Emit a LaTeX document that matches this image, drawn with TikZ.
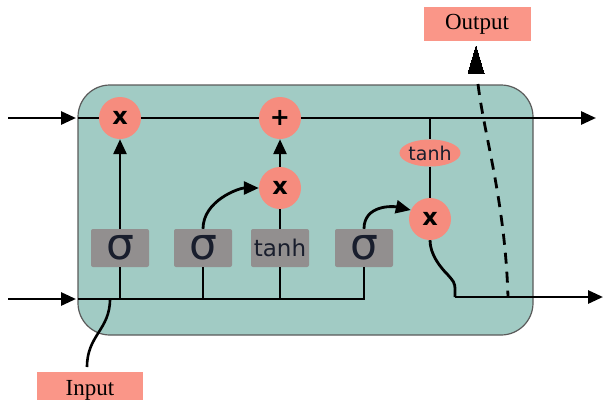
\documentclass[tikz,border=0pt]{standalone}
\usepackage{fontspec}
\setmainfont{Liberation Serif}
\newfontfamily\djv{DejaVu Sans}
\usetikzlibrary{arrows.meta,shapes.geometric}
\definecolor{cellbg}{RGB}{161,203,196}
\definecolor{cellbd}{RGB}{90,90,90}
\definecolor{opc}{RGB}{246,140,126}
\definecolor{gatebox}{RGB}{146,143,143}
\definecolor{lblbox}{RGB}{250,150,136}
\definecolor{txtdark}{RGB}{25,30,45}
\tikzset{
  flow/.style={line width=2.8pt, draw=black},
  tip/.style={-{Triangle[length=15pt,width=13pt]}},
  opnode/.style={circle, fill=opc, minimum size=42pt, inner sep=0pt, font=\djv\bfseries\fontsize{24}{24}\selectfont},
  gate/.style={rectangle, rounded corners=2pt, fill=gatebox, minimum width=58pt, minimum height=38pt, inner sep=0pt, text=txtdark},
  lbl/.style={rectangle, fill=lblbox, inner sep=0pt, font=\fontsize{23}{23}\selectfont}
}
\begin{document}
\begin{tikzpicture}[x=1pt,y=-1pt]
\useasboundingbox (0,0) rectangle (604,399);
% cell body
\draw[fill=cellbg, draw=cellbd, line width=1.2pt, rounded corners=32pt] (78,85) rectangle (533,335);
% nodes
\node[opnode] (m1) at (120,118) {x};
\node[opnode] (add) at (280,118) {+};
\node[opnode] (m2) at (280,188) {x};
\node[opnode] (m3) at (430,219) {x};
\node[ellipse, fill=opc, minimum width=60pt, minimum height=27pt, inner sep=0pt, font=\djv\fontsize{19}{19}\selectfont, text=txtdark] (th) at (430,153) {tanh};
\node[gate, font=\djv\fontsize{44}{44}\selectfont] (s1) at (120,248) {σ};
\node[gate, font=\djv\fontsize{44}{44}\selectfont] (s2) at (203,248) {σ};
\node[gate, font=\djv\fontsize{23}{23}\selectfont] (tb) at (280,248) {tanh};
\node[gate, font=\djv\fontsize{44}{44}\selectfont] (s3) at (364,248) {σ};
\node[lbl, minimum width=107pt, minimum height=34pt] (out) at (477,24) {Output};
\node[lbl, minimum width=106pt, minimum height=34pt, anchor=north] (in) at (90,372) {};
\node[font=\fontsize{23}{23}\selectfont] (intext) at (90,390) {Input};
% coordinates
\coordinate (cl) at (8,118);
\coordinate (ce) at (76,118);
\coordinate (cb) at (78,118);
\coordinate (cr) at (596,118);
\coordinate (br) at (430,118);
\coordinate (hl) at (8,299);
\coordinate (he) at (76,299);
\coordinate (hb) at (78,299);
\coordinate (hj) at (364,299);
\coordinate (o1) at (455,297);
\coordinate (hr) at (603,297);
\coordinate (ds) at (508,297);
\coordinate (dt) at (476,46);
\coordinate (ip) at (87,367);
\coordinate (iq) at (110,299);
% cell state line
\draw[flow, tip] (cl) -- (ce);
\draw[flow] (cb) -- (m1.west);
\draw[flow] (m1.east) -- (add.west);
\draw[flow, tip] (add.east) -- (cr);
\draw[flow] (br) -- (th.north);
\draw[flow] (th.south) -- (m3.north);
% hidden input line
\draw[flow, tip] (hl) -- (he);
\draw[flow] (hb) -- (hj) -- (s3.south);
\draw[flow] (s1.south) -- (s1.south |- hb);
\draw[flow] (s2.south) -- (s2.south |- hb);
\draw[flow] (tb.south) -- (tb.south |- hb);
% gates
\draw[flow, tip] (s1.north) -- (m1.south);
\draw[flow] (tb.north) -- (m2.south);
\draw[flow, tip] (m2.north) -- (add.south);
\draw[flow, tip] (s2.north) .. controls +(0,-28) and +(-20,0) .. (m2.west);
\draw[flow, tip] (s3.north) .. controls +(0,-24) and +(-18,-4) .. (m3.155);
% output
\draw[flow] (m3.south) .. controls +(0,14) and +(-8,-8) .. (448,275) .. controls +(5,6) and +(0,-8) .. (455,290) -- (o1);
\draw[flow, tip] (o1) -- (hr);
\draw[flow, dash pattern=on 11pt off 8pt] (478,84) .. controls (484,135) and (505,200) .. (ds);
\draw[line width=0pt, fill=black] (dt) -- (484,73) -- (468,73) -- cycle;
% input curve
\draw[line width=2.6pt] (ip) .. controls (87,335) and (110,330) .. (iq);
\end{tikzpicture}
\end{document}
